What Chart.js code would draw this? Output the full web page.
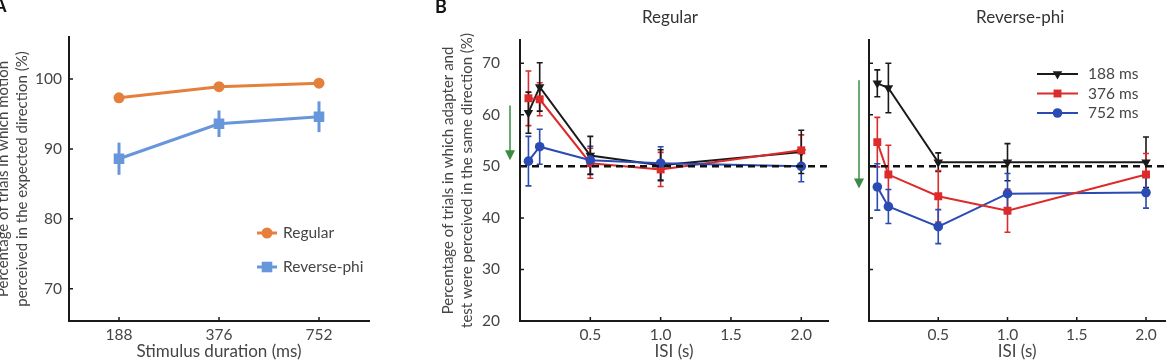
<!DOCTYPE html>
<html><head><meta charset="utf-8">
<script src="https://cdn.jsdelivr.net/npm/chart.js@4.4.1/dist/chart.umd.min.js"></script>
<style>
html,body{margin:0;padding:0;background:#fff;overflow:hidden;width:1171px;height:363px;position:relative}
canvas{position:absolute;top:0}
</style></head><body>
<canvas id="cA" width="410" height="363" style="left:-10px"></canvas>
<canvas id="cB1" width="420" height="363" style="left:430px"></canvas>
<canvas id="cB2" width="321" height="363" style="left:850px"></canvas>
<script>
// ---------- Panel A data ----------
const durationLabels = ['188', '376', '752'];
const aTicksY = [70, 80, 90, 100];
const aRegular = [97.3, 98.9, 99.4];
const aRegularErr = [0.5, 0.4, 0.35];
const aReverse = [88.6, 93.6, 94.6];
const aReverseErr = [2.3, 1.9, 2.2];

// ---------- Panel B data ----------
const isiValues = [0.06, 0.14, 0.5, 1.0, 2.0];
const isiTicks = [0.5, 1.0, 1.5, 2.0];
const bTicksY = [20, 30, 40, 50, 60, 70];
const chanceLevel = 50;
const seriesNames = ['188 ms', '376 ms', '752 ms'];

const reg188 = [60.4, 65.4, 52.1, 50.2, 52.8];
const reg188Err = [4.0, 4.7, 3.7, 3.0, 4.2];
const reg376 = [63.2, 63.0, 50.6, 49.4, 53.1];
const reg376Err = [5.3, 3.2, 2.9, 3.3, 3.0];
const reg752 = [51.0, 53.8, 51.2, 50.6, 50.0];
const reg752Err = [4.8, 3.4, 2.7, 3.2, 3.0];

const rev188 = [66.1, 65.2, 50.8, 50.8, 50.8];
const rev188Err = [2.6, 4.8, 1.8, 3.6, 4.9];
const rev376 = [54.7, 48.4, 44.2, 41.4, 48.4];
const rev376Err = [4.8, 5.7, 5.0, 4.2, 4.1];
const rev752 = [46.0, 42.2, 38.3, 44.7, 44.9];
const rev752Err = [4.5, 3.3, 3.3, 3.9, 3.0];

const arrowRegular = [61.8, 51.2];
const arrowReverse = [66.7, 45.7];

// ---------- styling ----------
const FONT = 'Lato, "Open Sans", sans-serif';
const TXT = '#454545';
const AXIS = '#1a1a1a';
const C_ORANGE = '#e4803c', C_LBLUE = '#6896da';
const C_BLACK = '#1a1a1a', C_RED = '#dd2a2a', C_BLUE = '#2a4ab4';
const C_GREEN = '#3c8a44';

const errorBarPlugin = {
  id: 'errorBars',
  beforeDatasetsDraw(chart) {
    const ctx = chart.ctx, ys = chart.scales.y;
    chart.data.datasets.forEach((ds, i) => {
      if (!ds.errors) return;
      const meta = chart.getDatasetMeta(i);
      ctx.save();
      ctx.strokeStyle = ds.borderColor;
      ctx.lineWidth = ds.errorWidth || 1.5;
      meta.data.forEach((pt, j) => {
        const v = ds.data[j];
        const val = (typeof v === 'object') ? v.y : v;
        const e = ds.errors[j];
        const t = ys.getPixelForValue(val + e), b = ys.getPixelForValue(val - e);
        const cw = ds.capWidth || 0;
        ctx.beginPath();
        ctx.moveTo(pt.x, t); ctx.lineTo(pt.x, b);
        if (cw) {
          ctx.moveTo(pt.x - cw, t); ctx.lineTo(pt.x + cw, t);
          ctx.moveTo(pt.x - cw, b); ctx.lineTo(pt.x + cw, b);
        }
        ctx.stroke();
      });
      ctx.restore();
    });
  }
};

const decoPlugin = {
  id: 'deco',
  afterDraw(chart, args, o) {
    const ctx = chart.ctx, a = chart.chartArea, xs = chart.scales.x, ys = chart.scales.y;
    ctx.save();
    // inward tick marks
    ctx.strokeStyle = AXIS; ctx.lineWidth = 1.5;
    ctx.beginPath();
    xs.ticks.forEach((t, i) => { const px = xs.getPixelForTick(i); ctx.moveTo(px, a.bottom); ctx.lineTo(px, a.bottom - 4); });
    ys.ticks.forEach((t, i) => { const py = ys.getPixelForTick(i); ctx.moveTo(a.left, py); ctx.lineTo(a.left + 4, py); });
    ctx.stroke();
    // panel letter
    if (o.letter) {
      ctx.fillStyle = '#111'; ctx.font = 'bold 18px ' + FONT;
      ctx.textAlign = 'left'; ctx.textBaseline = 'top';
      ctx.fillText(o.letter, o.letterX, o.letterY);
    }
    // panel title
    if (o.title) {
      ctx.fillStyle = '#333'; ctx.font = '17px ' + FONT;
      ctx.textAlign = 'center'; ctx.textBaseline = 'middle';
      ctx.fillText(o.title, (a.left + a.right) / 2 + (o.titleDx || 0), 18);
    }
    // green arrow
    if (o.arrow) {
      const x = a.left - 10;
      const y1 = ys.getPixelForValue(o.arrow[0]), y2 = ys.getPixelForValue(o.arrow[1]);
      ctx.strokeStyle = C_GREEN; ctx.fillStyle = C_GREEN; ctx.lineWidth = 1.5;
      ctx.beginPath(); ctx.moveTo(x, y1); ctx.lineTo(x, y2 - 6); ctx.stroke();
      ctx.beginPath(); ctx.moveTo(x - 5, y2 - 10); ctx.lineTo(x + 5, y2 - 10); ctx.lineTo(x, y2); ctx.closePath(); ctx.fill();
    }
    // legend
    if (o.legend) {
      const L = o.legend;
      ctx.font = '15.5px ' + FONT; ctx.textAlign = 'left'; ctx.textBaseline = 'middle';
      let row = 0;
      chart.data.datasets.forEach(ds => {
        if (!ds.inLegend) return;
        const y = a.top + L.dy + row * L.gap;
        const x0 = a.left + L.dx;
        ctx.strokeStyle = ds.borderColor; ctx.fillStyle = ds.borderColor; ctx.lineWidth = ds.borderWidth;
        ctx.beginPath(); ctx.moveTo(x0, y); ctx.lineTo(x0 + L.len, y); ctx.stroke();
        Chart.helpers.drawPoint(ctx, {pointStyle: ds.pointStyle, radius: ds.pointRadius, rotation: ds.pointRotation || 0, borderWidth: 0}, x0 + L.len / 2, y);
        ctx.fillStyle = TXT;
        ctx.fillText(ds.label, x0 + L.len + L.textGap, y);
        row++;
      });
    }
    ctx.restore();
  }
};

Chart.register(errorBarPlugin, decoPlugin);

function setTicks(values) { return s => { s.ticks = values.map(v => ({value: v})); }; }

const TICKFONT = {family: FONT, size: 15.5};
const XTITLEFONT = {family: FONT, size: 17, lineHeight: 1.2};
const YTITLEFONT = {family: FONT, size: 15, lineHeight: 1.27};

// ---------- Panel A ----------
new Chart(document.getElementById('cA'), {
  type: 'line',
  data: {
    labels: durationLabels,
    datasets: [
      {label: 'Regular', data: aRegular, errors: aRegularErr, errorWidth: 2.5, borderColor: C_ORANGE, backgroundColor: C_ORANGE,
       borderWidth: 3, pointStyle: 'circle', pointRadius: 5.5, pointBorderWidth: 0, inLegend: true},
      {label: 'Reverse-phi', data: aReverse, errors: aReverseErr, errorWidth: 3, borderColor: C_LBLUE, backgroundColor: C_LBLUE,
       borderWidth: 3, pointStyle: 'rect', pointRadius: 7.5, pointBorderWidth: 0, inLegend: true}
    ]
  },
  options: {
    responsive: false, animation: false, devicePixelRatio: 1,
    layout: {padding: {left: 0, right: 31, top: 37, bottom: 0}},
    plugins: {legend: {display: false}, tooltip: {enabled: false},
      deco: {letter: 'A', letterX: 4, letterY: -3, legend: {dx: 188, dy: 196, gap: 34, len: 20, textGap: 6}}},
    scales: {
      x: {type: 'category', offset: true,
        grid: {display: false, drawTicks: false}, border: {display: true, color: AXIS, width: 2},
        ticks: {color: TXT, font: TICKFONT, padding: 5},
        title: {display: true, text: 'Stimulus duration (ms)', color: TXT, font: XTITLEFONT, padding: {top: 0, bottom: 1}},
        afterFit: s => { s.height = 42; }},
      y: {type: 'linear', min: 65.4, max: 106,
        grid: {display: false, drawTicks: false}, border: {display: true, color: AXIS, width: 2},
        afterBuildTicks: setTicks(aTicksY),
        ticks: {color: TXT, font: TICKFONT, padding: 7},
        title: {display: true, text: ['Percentage of trials in which motion', 'perceived in the expected direction (%)'], color: TXT,
          font: YTITLEFONT, padding: {top: 4, bottom: 0}},
        afterFit: s => { s.width = 79; }}
    }
  }
});

// ---------- Panel B helpers ----------
function pts(ys) { return isiValues.map((x, i) => ({x: x, y: ys[i]})); }
function series(name, ys, errs, color, style, radius, rot) {
  return {label: name, data: pts(ys), errors: errs, errorWidth: 1.6, capWidth: 3, borderColor: color, backgroundColor: color,
    borderWidth: 2, pointStyle: style, pointRadius: radius, pointRotation: rot || 0, pointBorderWidth: 0, inLegend: true};
}
function chanceLine(xmax) {
  return {label: 'chance', data: [{x: 0, y: chanceLevel}, {x: xmax, y: chanceLevel}], borderColor: '#111', borderWidth: 2.5,
    borderDash: [7, 5], pointRadius: 0, inLegend: false};
}
function bOptions(xmax, ywidth, padRight, showY, deco) {
  return {
    responsive: false, animation: false, devicePixelRatio: 1,
    layout: {padding: {left: 0, right: padRight, top: 40, bottom: 0}},
    plugins: {legend: {display: false}, tooltip: {enabled: false}, deco: deco},
    scales: {
      x: {type: 'linear', min: 0, max: xmax,
        grid: {display: false, drawTicks: false}, border: {display: true, color: AXIS, width: 2},
        afterBuildTicks: setTicks(isiTicks),
        ticks: {color: TXT, font: TICKFONT, padding: 5, callback: v => Number(v).toFixed(1)},
        title: {display: true, text: 'ISI (s)', color: TXT, font: XTITLEFONT, padding: {top: 0, bottom: 1}},
        afterFit: s => { s.height = 42; }},
      y: {type: 'linear', min: 20, max: 74.5,
        grid: {display: false, drawTicks: false}, border: {display: true, color: AXIS, width: 2},
        afterBuildTicks: setTicks(bTicksY),
        ticks: {display: showY, color: TXT, font: TICKFONT, padding: 20},
        title: {display: showY, text: ['Percentage of trials in which adapter and', 'test were perceived in the same direction (%)'], color: TXT,
          font: YTITLEFONT, padding: {top: 8.5, bottom: 0}},
        afterFit: s => { s.width = ywidth; }}
    }
  };
}

// ---------- Panel B: Regular ----------
const xmaxReg = 2.19;
new Chart(document.getElementById('cB1'), {
  type: 'line',
  data: {datasets: [
    chanceLine(xmaxReg),
    series(seriesNames[2], reg752, reg752Err, C_BLUE, 'circle', 4.8),
    series(seriesNames[1], reg376, reg376Err, C_RED, 'rect', 5.6),
    series(seriesNames[0], reg188, reg188Err, C_BLACK, 'triangle', 5.5, 180)
  ]},
  options: bOptions(xmaxReg, 90, 22, true, {letter: 'B', letterX: 5, letterY: -2, title: 'Regular', titleDx: -4, arrow: arrowRegular})
});

// ---------- Panel B: Reverse-phi ----------
const xmaxRev = 2.14;
const revSets = [
  series(seriesNames[0], rev188, rev188Err, C_BLACK, 'triangle', 5.5, 180),
  series(seriesNames[1], rev376, rev376Err, C_RED, 'rect', 5.6),
  series(seriesNames[2], rev752, rev752Err, C_BLUE, 'circle', 4.8)
];
new Chart(document.getElementById('cB2'), {
  type: 'line',
  data: {datasets: [chanceLine(xmaxRev)].concat(revSets)},
  options: bOptions(xmaxRev, 19, 0, false, {title: 'Reverse-phi', titleDx: 3, arrow: arrowReverse,
    legend: {dx: 168, dy: 34, gap: 19.5, len: 41, textGap: 10}})
});
</script>
</body></html>
